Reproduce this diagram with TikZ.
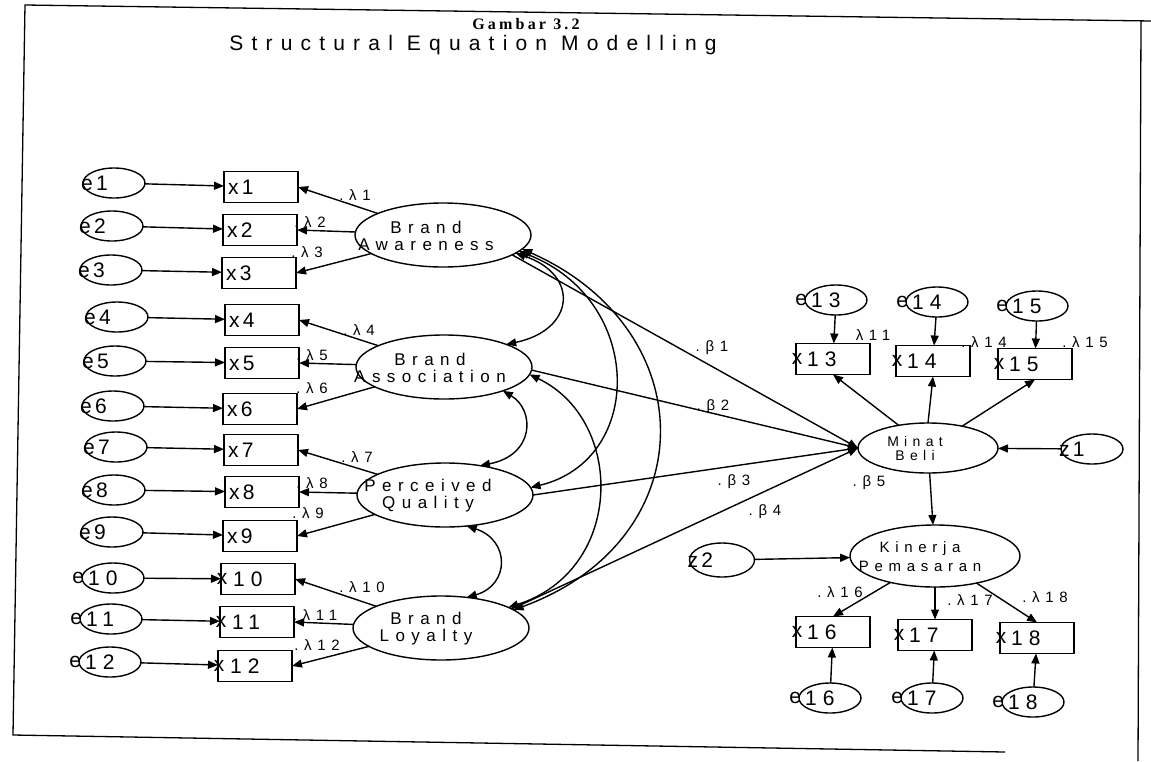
\documentclass[tikz,border=0pt]{standalone}
\usepackage{fontspec}
\setmainfont{Liberation Sans}
\newfontfamily\nodefont[LetterSpace=30]{Liberation Sans}
\newfontfamily\latfont[LetterSpace=38]{Liberation Sans}
\newfontfamily\lblfont[LetterSpace=38]{Liberation Sans}
\newfontfamily\titlefont[LetterSpace=39]{Liberation Sans}
\newfontfamily\gamfont[LetterSpace=20]{Liberation Serif}
\usetikzlibrary{shapes.geometric,arrows.meta}
\begin{document}
\begin{tikzpicture}[x=1pt,y=-1pt,
 every node/.style={inner sep=0pt,outer sep=0pt},
 errell/.style={draw,ellipse,minimum width=62pt,minimum height=30pt,line width=1.4pt},
 obsbox/.style={draw,rectangle,minimum width=74pt,minimum height=31pt,line width=1.4pt},
 latell/.style={draw,ellipse,minimum width=176pt,minimum height=64pt,line width=1.4pt},
 lattext/.style={align=center,font=\latfont\fontsize{17}{17}\selectfont},
 ntext/.style={font=\nodefont\fontsize{21}{21}\selectfont},
 lbl/.style={font=\lblfont\fontsize{15}{15}\selectfont},
 arr/.style={line width=1.4pt,-{Triangle[length=10pt,width=8pt]}},
 darr/.style={line width=1.4pt,{Triangle[length=10pt,width=8pt]}-{Triangle[length=10pt,width=8pt]}},
 frame/.style={line width=1.3pt}
]
\useasboundingbox (0,0) rectangle (1151,761);
% frame
\coordinate (fTL) at (25,5);
\coordinate (fTR) at (1151,21);
\coordinate (fBL) at (13,735);
\coordinate (fBR) at (1005,752);
\coordinate (fRT) at (1141,21);
\coordinate (fRB) at (1138,761);
\draw[frame] (fTR) -- (fTL) -- (fBL) -- (fBR);
\draw[frame] (fRT) -- (fRB);
% title
\node[font=\gamfont\bfseries\fontsize{16}{16}\selectfont] (gam) at (526,24) {Gambar 3.2};
\node[font=\titlefont\fontsize{21}{21}\selectfont] (ttl) at (473,45) {Structural Equation Modelling};
% latent variables
\node[latell] (BA) at (443,235) {};
\node[lattext] (tBA) at (426,236) {Brand\\Awareness};
\node[latell] (BS) at (444,367) {};
\node[lattext] (tBS) at (430,368) {Brand\\Association};
\node[latell] (PQ) at (445,495) {};
\node[lattext] (tPQ) at (428,496) {Perceived\\Quality};
\node[latell] (BL) at (441,628) {};
\node[lattext] (tBL) at (426,629) {Brand\\Loyalty};
\node[draw,ellipse,minimum width=140pt,minimum height=50pt,line width=1.4pt] (MB) at (928,448) {};
\node[align=center,font=\latfont\fontsize{14}{14}\selectfont] (tMB) at (915,448) {Minat\\Beli};
\node[draw,ellipse,minimum width=170pt,minimum height=62pt,line width=1.4pt] (KP) at (935,556) {};
\node[align=center,font=\latfont\fontsize{15}{19}\selectfont] (tKP) at (920,557) {Kinerja\\Pemasaran};
% disturbances
\node[errell] (z1) at (1092,449) {};
\node[ntext,anchor=west] (tz1) at ([xshift=-2pt]z1.west) {z\,1};
\node[errell,minimum width=65pt,minimum height=34pt] (z2) at (722,560) {};
\node[ntext,anchor=west] (tz2) at ([xshift=-2pt]z2.west) {z\,2};
% left indicators 1-9
\foreach \i/\ex/\ey/\bx/\by in {1/114/183/261/187,2/112/226/260/230,3/111/270/259/273,4/117/317/262/320,5/115/361/262/363,6/113/406/260/409,7/116/447/261/450,8/114/490/262/492,9/112/532/260/536}{
  \node[errell] (e\i) at (\ex,\ey) {};
  \node[ntext,anchor=west] (te\i) at ([xshift=-2pt]e\i.west) {e\,\i};
  \node[obsbox] (x\i) at (\bx,\by) {};
  \node[ntext,anchor=west] (tx\i) at ([xshift=4pt]x\i.west) {x\,\i};
  \draw[arr] (e\i) -- (x\i);
}
% left indicators 10-12
\foreach \i/\ex/\ey/\bx/\by in {10/113/578/258/579,11/111/619/257/622,12/110/662/255/666}{
  \node[errell] (e\i) at (\ex,\ey) {};
  \node[ntext,anchor=east] (te\i) at ([xshift=2pt]e\i.west) {e};
  \node[ntext,anchor=west] (ne\i) at ([xshift=6pt]e\i.west) {\i};
  \node[obsbox] (x\i) at (\bx,\by) {};
  \node[ntext] (tx\i) at ([xshift=1pt]x\i.west) {x};
  \node[ntext,anchor=west] (nx\i) at ([xshift=12pt]x\i.west) {\i};
  \draw[arr] (e\i) -- (x\i);
}
% right indicators
\foreach \i/\ex/\ey/\bx/\by in {13/836/300/833/359,14/937/302/933/361,15/1037/306/1035/364,16/830/698/833/632,17/932/698/935/635,18/1033/702/1037/638}{
  \node[errell] (e\i) at (\ex,\ey) {};
  \node[ntext,anchor=east] (te\i) at ([xshift=2pt]e\i.west) {e};
  \node[ntext,anchor=west] (ne\i) at ([xshift=6pt]e\i.west) {\i};
  \node[obsbox] (x\i) at (\bx,\by) {};
  \node[ntext] (tx\i) at ([xshift=1pt]x\i.west) {x};
  \node[ntext,anchor=west] (nx\i) at ([xshift=11pt]x\i.west) {\i};
  \draw[arr] (e\i) -- (x\i);
}
% loadings
\foreach \i in {1,2,3}{\draw[arr] (BA) -- (x\i.east);}
\foreach \i in {4,5,6}{\draw[arr] (BS) -- (x\i.east);}
\foreach \i in {7,8,9}{\draw[arr] (PQ) -- (x\i.east);}
\foreach \i in {10,11,12}{\draw[arr] (BL) -- (x\i.east);}
\draw[arr] (MB) -- (x13.south);
\draw[arr] (MB.north) -- (x14.south);
\draw[arr] (MB) -- (x15.south);
\draw[arr] (KP) -- (x16.north);
\draw[arr] (KP.south) -- (x17.north);
\draw[arr] (KP) -- (x18.north);
% correlations
\draw[darr] (BA.-14) .. controls (580,275) and (575,330) .. (BS.20);
\draw[darr] (BS.-22) .. controls (535,410) and (535,455) .. (PQ.40);
\draw[darr] (PQ.-55) .. controls (510,540) and (510,585) .. (BL.50);
\draw[darr] (BA.-12) .. controls (645,300) and (645,460) .. (PQ.5);
\draw[darr] (BA.-10) .. controls (705,330) and (705,540) .. (BL.14);
\draw[darr] (BS.-5) .. controls (625,420) and (625,570) .. (BL.17);
% structural paths
\draw[arr] (BA.-16) -- (MB.west);
\draw[arr] (BS.-2) -- (MB.west);
\draw[arr] (PQ.east) -- (MB.west);
\draw[arr] (BL.15) -- (MB.west);
\draw[arr] (z1) -- (MB);
\draw[arr] (MB) -- (KP);
\draw[arr] (z2) -- (KP);
% labels
\node[lbl] (l1) at (355,195) {.λ1};
\node[lbl] (l2) at (310,222) {.λ2};
\node[lbl] (l3) at (307,252) {.λ3};
\node[lbl] (l4) at (359,330) {.λ4};
\node[lbl] (l5) at (312,355) {.λ5};
\node[lbl] (l6) at (312,388) {.λ6};
\node[lbl] (l7) at (357,457) {.λ7};
\node[lbl] (l8) at (312,483) {.λ8};
\node[lbl] (l9) at (308,513) {.λ9};
\node[lbl] (l10) at (362,587) {.λ10};
\node[lbl] (l11) at (315,615) {.λ11};
\node[lbl] (l12) at (317,645) {.λ12};
\node[lbl] (l13) at (873,335) {λ11};
\node[lbl] (l14) at (984,342) {.λ14};
\node[lbl] (l15) at (1085,342) {.λ15};
\node[lbl] (l16) at (840,592) {.λ16};
\node[lbl] (l17) at (970,600) {.λ17};
\node[lbl] (l18) at (1045,597) {.λ18};
\node[lbl] (b1) at (712,348) {.β1};
\node[lbl] (b2) at (713,407) {.β2};
\node[lbl] (b3) at (734,482) {.β3};
\node[lbl] (b4) at (765,512) {.β4};
\node[lbl] (b5) at (869,483) {.β5};
\end{tikzpicture}
\end{document}
